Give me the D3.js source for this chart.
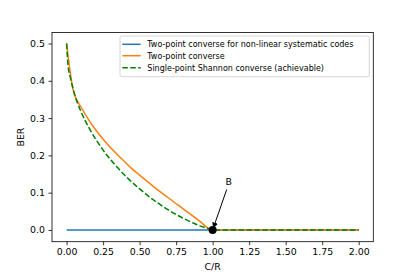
<!DOCTYPE html>
<html lang="en">
<head>
<meta charset="utf-8">
<title>BER vs C/R</title>
<style>
  body { margin: 0; background: #fff; }
  svg text { font-family: "DejaVu Sans", sans-serif; fill: #000; }
  .tick line { stroke: #000; stroke-width: 0.8; }
  .domain { display: none; }
</style>
</head>
<body>
<div id="chart"></div>
<script src="https://cdn.jsdelivr.net/npm/d3@7"></script>
<script>

// values
var xTicks = [0, 0.25, 0.5, 0.75, 1.0, 1.25, 1.5, 1.75, 2.0];
var yTicks = [0, 0.1, 0.2, 0.3, 0.4, 0.5];

var blueX = [0, 1.0, 2.0];
var blueY = [0, 0, 0];

var orangeX = [0, 0.045, 0.1, 0.15, 0.2, 0.25, 0.3, 0.35, 0.4, 0.45, 0.5, 0.6, 0.7, 0.8, 0.9, 1.0, 1.5, 2.0];
var orangeY = [0.5, 0.375, 0.329, 0.296, 0.268, 0.243, 0.221, 0.201, 0.182, 0.163, 0.147, 0.115, 0.085, 0.056, 0.027, 0, 0, 0];

var greenX = [0, 0.01, 0.025, 0.05, 0.1, 0.15, 0.2, 0.25, 0.3, 0.4, 0.5, 0.6, 0.7, 0.8, 0.9, 0.95, 1.0, 1.5, 2.0];
var greenY = [0.5, 0.44, 0.41, 0.37, 0.316, 0.276, 0.243, 0.214, 0.189, 0.146, 0.110, 0.079, 0.053, 0.031, 0.013, 0.006, 0, 0, 0];

var legendLabels = [
    "Two-point converse for non-linear systematic codes",
    "Two-point converse",
    "Single-point Shannon converse (achievable)"
];
var pointB = [1.0, 0];
var labelB = [1.11, 0.13];

var W = 415, H = 277;
var axLeft = 52, axRight = 373.3, axTop = 32.5, axBottom = 241.7;

var svg = d3.select( "#chart" ).append( "svg" )
    .attr( "width" , W )
    .attr( "height" , H );

var x = d3.scaleLinear().domain( [ -0.1 , 2.1 ] ).range( [ axLeft , axRight ] );
var y = d3.scaleLinear().domain( [ -0.0315 , 0.5295 ] ).range( [ axBottom , axTop ] );

// axes
svg.append( "g" )
    .attr( "transform" , "translate(0," + axBottom + ")" )
    .call( d3.axisBottom( x ).tickValues( xTicks ).tickFormat( d3.format( ".2f" ) ).tickSize( 3.5 ).tickPadding( 3.5 ) )
    .selectAll( "text" ).style( "font-size" , "9.4px" );

svg.append( "g" )
    .attr( "transform" , "translate(" + axLeft + ",0)" )
    .call( d3.axisLeft( y ).tickValues( yTicks ).tickFormat( d3.format( ".1f" ) ).tickSize( 3.5 ).tickPadding( 3.5 ) )
    .selectAll( "text" ).style( "font-size" , "9.4px" );

svg.selectAll( "g" ).attr( "font-family" , null );

// lines
function zipXY( xs , ys ) { return xs.map( function( v , i ) { return [ v , ys[i] ]; } ); }

var line = d3.line()
    .x( function( d ) { return x( d[0] ); } )
    .y( function( d ) { return y( d[1] ); } )
    .curve( d3.curveMonotoneX );

var series = [
    { data : zipXY( blueX , blueY ) , color : "#1f77b4" , dash : null },
    { data : zipXY( orangeX , orangeY ) , color : "#ff7f0e" , dash : null },
    { data : zipXY( greenX , greenY ) , color : "#008000" , dash : "5.55,2.4" }
];

svg.selectAll( ".series" )
    .data( series )
    .enter().append( "path" )
        .attr( "class" , "series" )
        .attr( "d" , function( d ) { return line( d.data ); } )
        .attr( "fill" , "none" )
        .attr( "stroke" , function( d ) { return d.color; } )
        .attr( "stroke-width" , 1.5 )
        .attr( "stroke-dasharray" , function( d ) { return d.dash; } );

// point B and annotation
svg.append( "circle" )
    .attr( "cx" , x( pointB[0] ) )
    .attr( "cy" , y( pointB[1] ) )
    .attr( "r" , 4 )
    .attr( "fill" , "#000" );

svg.append( "defs" ).append( "marker" )
    .attr( "id" , "arrow" )
    .attr( "viewBox" , "0 0 10 10" )
    .attr( "refX" , 10 ).attr( "refY" , 5 )
    .attr( "markerWidth" , 6 ).attr( "markerHeight" , 6 )
    .attr( "orient" , "auto" )
    .append( "path" ).attr( "d" , "M0,0 L10,5 L0,10 z" ).attr( "fill" , "#000" );

svg.append( "text" )
    .attr( "x" , x( labelB[0] ) )
    .attr( "y" , y( labelB[1] ) )
    .attr( "text-anchor" , "middle" )
    .attr( "dy" , "0.35em" )
    .style( "font-size" , "9.4px" )
    .text( "B" );

svg.append( "line" )
    .attr( "x1" , x( labelB[0] ) - 2 )
    .attr( "y1" , y( labelB[1] ) + 8 )
    .attr( "x2" , x( pointB[0] ) + 0.5 )
    .attr( "y2" , y( pointB[1] ) - 1.5 )
    .attr( "stroke" , "#000" )
    .attr( "stroke-width" , 1 )
    .attr( "marker-end" , "url(#arrow)" );

// frame
svg.append( "rect" )
    .attr( "x" , axLeft ).attr( "y" , axTop )
    .attr( "width" , axRight - axLeft ).attr( "height" , axBottom - axTop )
    .attr( "fill" , "none" )
    .attr( "stroke" , "#000" )
    .attr( "stroke-width" , 0.8 );

// axis labels
svg.append( "text" )
    .attr( "x" , ( axLeft + axRight ) / 2 )
    .attr( "y" , 267 )
    .attr( "dy" , "0.35em" )
    .attr( "text-anchor" , "middle" )
    .style( "font-size" , "9.4px" )
    .text( "C/R" );

svg.append( "text" )
    .attr( "transform" , "translate(20.7," + ( axTop + axBottom ) / 2 + ") rotate(-90)" )
    .attr( "dy" , "0.35em" )
    .attr( "text-anchor" , "middle" )
    .style( "font-size" , "9.4px" )
    .text( "BER" );

// legend
var leg = svg.append( "g" ).attr( "transform" , "translate(120,36)" );
leg.append( "rect" )
    .attr( "width" , 249.3 ).attr( "height" , 40.7 )
    .attr( "rx" , 2 )
    .attr( "fill" , "#fff" ).attr( "fill-opacity" , 0.8 )
    .attr( "stroke" , "#ccc" ).attr( "stroke-width" , 0.8 );

var entry = leg.selectAll( ".entry" )
    .data( series )
    .enter().append( "g" )
        .attr( "class" , "entry" )
        .attr( "transform" , function( d , i ) { return "translate(0," + [ 8.3 , 19.7 , 31.7 ][i] + ")"; } );

entry.append( "line" )
    .attr( "x1" , 2.3 ).attr( "x2" , 20.7 )
    .attr( "stroke" , function( d ) { return d.color; } )
    .attr( "stroke-width" , 1.5 )
    .attr( "stroke-dasharray" , function( d ) { return d.dash; } );

entry.append( "text" )
    .attr( "x" , 27.3 )
    .attr( "dy" , "0.35em" )
    .style( "font-size" , "8px" )
    .text( function( d , i ) { return legendLabels[i]; } );

</script>
</body>
</html>
